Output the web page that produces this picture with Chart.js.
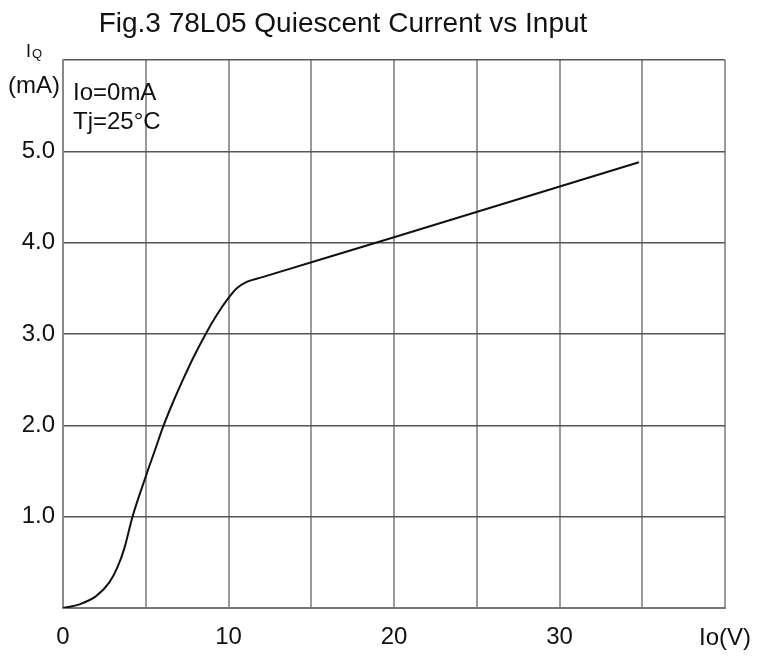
<!DOCTYPE html>
<html lang="en">
<head>
    <meta charset="UTF-8">
    <title>78L05 Quiescent Current vs Input</title>
    <style>
        html, body {
            margin: 0;
            padding: 0;
            background: #fff;
        }

        #wrap {
            width: 757px;
            height: 656px;
        }
    </style>
</head>
<body>
    <div id="wrap">
        <canvas id="myChart" width="757" height="656"></canvas>
    </div>

    <script src="https://cdn.jsdelivr.net/npm/chart.js"></script>
    <script>
        // Input voltage (V) and quiescent current (mA)
        const inputVolts = [0, 1.0, 2.0, 2.8, 3.3, 3.7, 4.2, 5.0, 5.56, 6.04, 6.64, 7.25, 7.87, 8.68, 9.3, 9.9, 10.5, 11.1, 12.0, 20, 34.8];
        const quiescentMa = [0, 0.04, 0.13, 0.28, 0.45, 0.65, 1.0, 1.44, 1.73, 1.98, 2.25, 2.5, 2.74, 3.02, 3.21, 3.37, 3.5, 3.57, 3.62, 4.06, 4.88];

        const xLabels = [0, 10, 20, 30];
        const yLabels = [1, 2, 3, 4, 5];
        const notes = ['Io=0mA', 'Tj=25°C'];

        const FONT = '"Liberation Sans", Arial, sans-serif';

        // Titles and notes drawn by hand so they sit where the figure has them
        const textPlugin = {
            id: 'figText',
            beforeDraw(chart) {
                const ctx = chart.ctx;
                ctx.save();
                ctx.fillStyle = '#fff';
                ctx.fillRect(0, 0, chart.width, chart.height);
                ctx.restore();
            },
            afterDraw(chart) {
                const ctx = chart.ctx;
                const area = chart.chartArea;
                ctx.save();
                ctx.fillStyle = '#111';
                ctx.textBaseline = 'alphabetic';

                ctx.font = '28px ' + FONT;
                ctx.textAlign = 'center';
                ctx.fillText('Fig.3 78L05 Quiescent Current vs Input', 343, 32);

                // y axis unit
                ctx.textAlign = 'left';
                ctx.font = '18px ' + FONT;
                ctx.fillText('I', 26, 57);
                ctx.font = '13px ' + FONT;
                ctx.fillText('Q', 32, 58);
                ctx.font = '24px ' + FONT;
                ctx.fillText('(mA)', 8, 93);

                // x axis unit
                ctx.textAlign = 'center';
                ctx.fillText('Io(V)', 725, 645);

                // conditions
                ctx.textAlign = 'left';
                ctx.fillText(notes[0], area.left + 10, 100);
                ctx.fillText(notes[1], area.left + 10, 129);
                ctx.restore();
            }
        };

        const config = {
            type: 'scatter',
            data: {
                datasets: [{
                    label: 'IQ',
                    data: inputVolts.map((v, i) => ({ x: v, y: quiescentMa[i] })),
                    showLine: true,
                    borderColor: '#111',
                    borderWidth: 2,
                    pointRadius: 0,
                    cubicInterpolationMode: 'monotone',
                    fill: false
                }]
            },
            options: {
                responsive: false,
                animation: false,
                layout: {
                    padding: { top: 60, right: 32, left: 0, bottom: 0 }
                },
                plugins: {
                    legend: { display: false },
                    tooltip: { enabled: false },
                    title: { display: false }
                },
                scales: {
                    x: {
                        type: 'linear',
                        min: 0,
                        max: 40,
                        afterFit(scale) { scale.height = 48; },
                        ticks: {
                            stepSize: 5,
                            padding: 15,
                            color: '#111',
                            font: { family: FONT, size: 24 },
                            maxRotation: 0,
                            autoSkip: false,
                            callback: (v) => xLabels.includes(v) ? String(v) : ''
                        },
                        grid: {
                            color: '#9a9a9a',
                            lineWidth: 2,
                            drawTicks: false
                        },
                        border: { color: '#777', width: 2 }
                    },
                    y: {
                        type: 'linear',
                        min: 0,
                        max: 6,
                        afterFit(scale) { scale.width = 63; },
                        ticks: {
                            stepSize: 1,
                            padding: 8,
                            color: '#111',
                            font: { family: FONT, size: 24 },
                            autoSkip: false,
                            callback: (v) => yLabels.includes(v) ? v.toFixed(1) : ''
                        },
                        grid: {
                            color: '#555',
                            lineWidth: 1.5,
                            drawTicks: false
                        },
                        border: { color: '#888', width: 2 }
                    }
                }
            },
            plugins: [textPlugin]
        };

        const myChart = new Chart(document.getElementById('myChart'), config);
    </script>
</body>
</html>
